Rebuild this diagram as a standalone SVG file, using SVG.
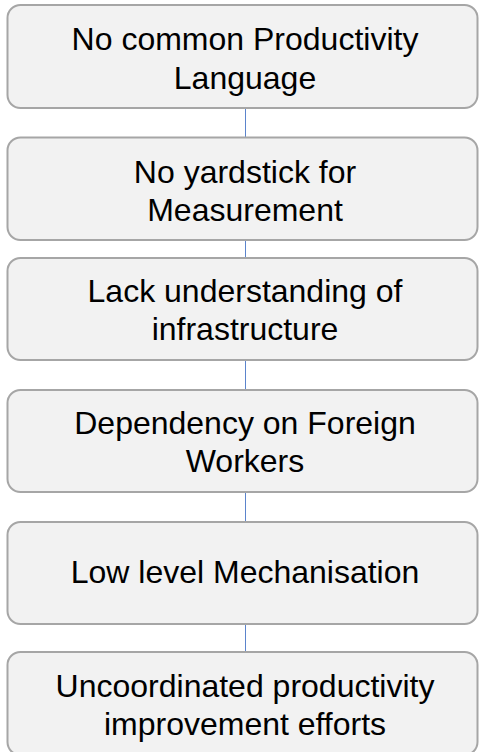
<svg xmlns="http://www.w3.org/2000/svg" width="479" height="752" viewBox="0 0 479 752">
<style>
.box{fill:#f2f2f2;stroke:#a6a6a6;stroke-width:2}
.t{font-family:"Liberation Sans",Arial,sans-serif;font-size:32px;fill:#000;text-anchor:middle}
.c{stroke:#5b84cc;stroke-width:1;fill:none}
</style>
<rect width="479" height="752" fill="#ffffff"/>
<g id="connectors">
<line class="c" x1="245.5" y1="108" x2="245.5" y2="137.5"/>
<line class="c" x1="245.5" y1="240" x2="245.5" y2="258"/>
<line class="c" x1="245.5" y1="360" x2="245.5" y2="390"/>
<line class="c" x1="245.5" y1="492" x2="245.5" y2="522"/>
<line class="c" x1="245.5" y1="624" x2="245.5" y2="652"/>
</g>
<g id="n1">
<rect class="box" x="7.5" y="5" width="470" height="103" rx="13"/>
<text class="t" x="245" y="50">No common Productivity</text>
<text class="t" x="245" y="89">Language</text>
</g>
<g id="n2">
<rect class="box" x="7.5" y="137.5" width="470" height="102.5" rx="13"/>
<text class="t" x="245" y="183">No yardstick for</text>
<text class="t" x="245" y="221">Measurement</text>
</g>
<g id="n3">
<rect class="box" x="7.5" y="258" width="470" height="102" rx="13"/>
<text class="t" x="245" y="302">Lack understanding of</text>
<text class="t" x="245" y="340">infrastructure</text>
</g>
<g id="n4">
<rect class="box" x="7.5" y="390" width="470" height="102" rx="13"/>
<text class="t" x="245" y="434">Dependency on Foreign</text>
<text class="t" x="245" y="472">Workers</text>
</g>
<g id="n5">
<rect class="box" x="7.5" y="522" width="470" height="102" rx="13"/>
<text class="t" x="245" y="583">Low level Mechanisation</text>
</g>
<g id="n6">
<rect class="box" x="7.5" y="652" width="470" height="103" rx="13"/>
<text class="t" x="245" y="697">Uncoordinated productivity</text>
<text class="t" x="245" y="735">improvement efforts</text>
</g>
</svg>
